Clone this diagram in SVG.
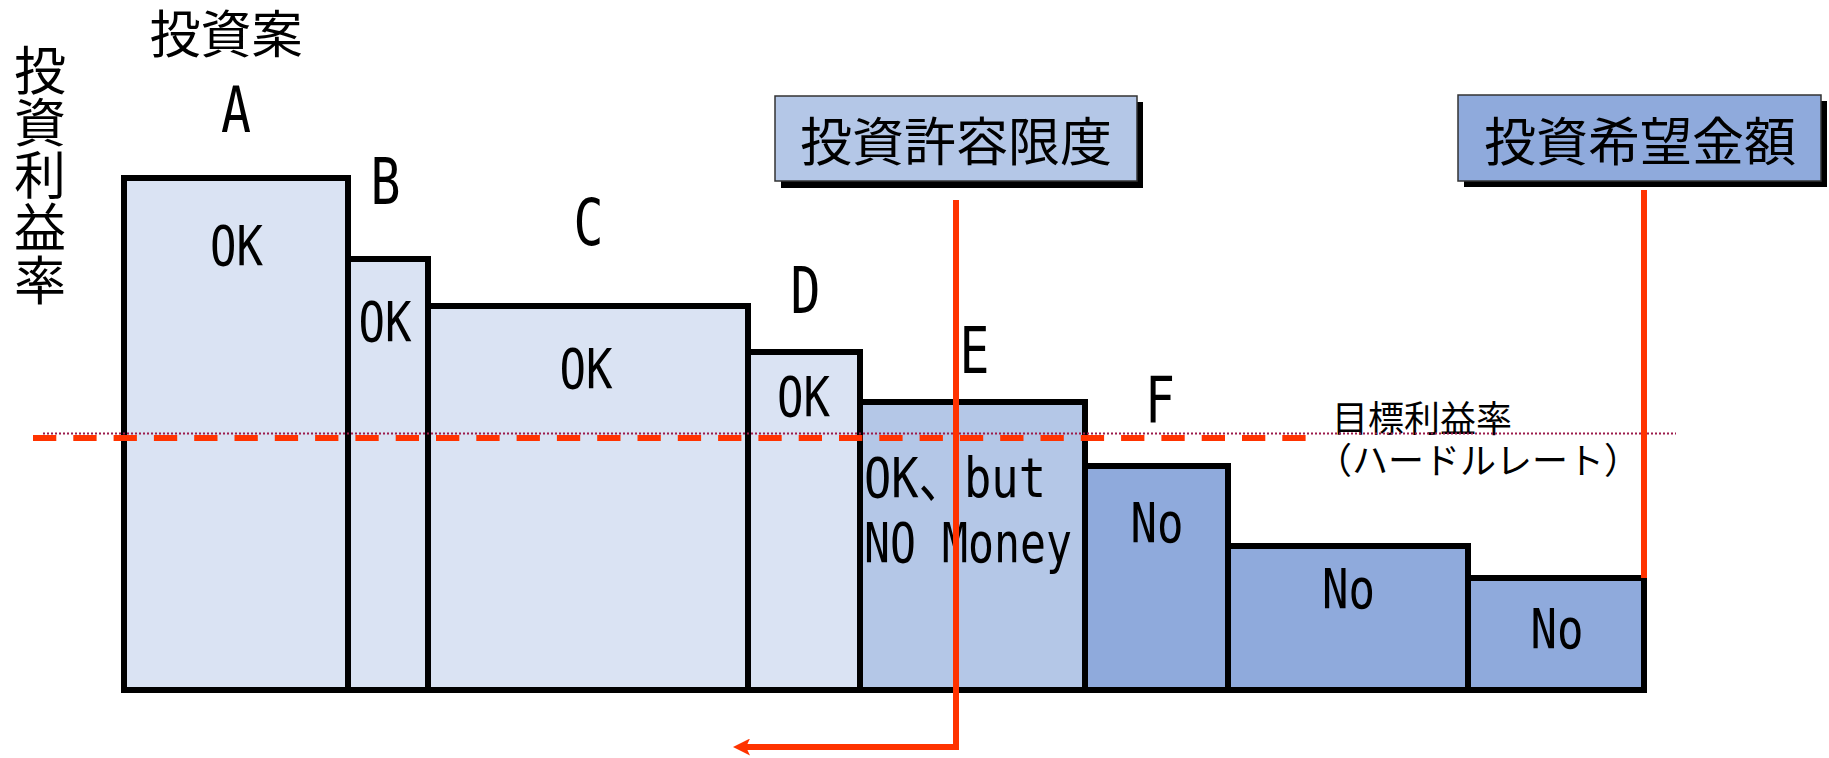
<svg xmlns="http://www.w3.org/2000/svg" width="1829" height="758" viewBox="0 0 1829 758">
<style>
.bar{stroke:#000;stroke-width:6;stroke-linejoin:miter}
.l1{fill:#dae3f3}
.l2{fill:#b4c7e7}
.l3{fill:#8faadc}
.lat{font-family:"DejaVu Sans Mono","Noto Sans CJK JP",monospace;fill:#000}
.jp{font-family:"Noto Sans CJK JP","Noto Sans",sans-serif;fill:#000}
.hdr{stroke:#333;stroke-width:1.5}
.red{stroke:#ff3300;stroke-width:6;fill:none}
</style>
<defs>
<marker id="arr" markerUnits="userSpaceOnUse" viewBox="0 0 17 17" markerWidth="17" markerHeight="17" refX="4" refY="8.5" orient="auto">
<path d="M0,0 L17,8.5 L0,17 L4,8.5 Z" fill="#ff3300"/>
</marker>
</defs>
<rect width="1829" height="758" fill="#fff"/>

<g id="axis-labels">
<text class="jp" x="226" y="53" font-size="51" text-anchor="middle">投資案</text>
<text class="jp" x="40" y="44" font-size="52" writing-mode="vertical-rl" letter-spacing="0.5">投資利益率</text>
</g>

<g id="node-A">
<rect class="bar l1" x="124" y="178" width="224" height="512"/>
<text class="lat" x="236" y="132" font-size="64" text-anchor="middle" textLength="30" lengthAdjust="spacingAndGlyphs">A</text>
<text class="lat" x="236.5" y="265" font-size="56" text-anchor="middle" textLength="53" lengthAdjust="spacingAndGlyphs">OK</text>
</g>
<g id="node-B">
<rect class="bar l1" x="348" y="259" width="80" height="431"/>
<text class="lat" x="385.5" y="204" font-size="64" text-anchor="middle" textLength="30" lengthAdjust="spacingAndGlyphs">B</text>
<text class="lat" x="385" y="341" font-size="56" text-anchor="middle" textLength="53" lengthAdjust="spacingAndGlyphs">OK</text>
</g>
<g id="node-C">
<rect class="bar l1" x="428" y="306" width="320" height="384"/>
<text class="lat" x="588.5" y="245" font-size="64" text-anchor="middle" textLength="30" lengthAdjust="spacingAndGlyphs">C</text>
<text class="lat" x="586" y="388" font-size="56" text-anchor="middle" textLength="53" lengthAdjust="spacingAndGlyphs">OK</text>
</g>
<g id="node-D">
<rect class="bar l1" x="748" y="352" width="112" height="338"/>
<text class="lat" x="805.5" y="313" font-size="64" text-anchor="middle" textLength="30" lengthAdjust="spacingAndGlyphs">D</text>
<text class="lat" x="803.5" y="416" font-size="56" text-anchor="middle" textLength="53" lengthAdjust="spacingAndGlyphs">OK</text>
</g>
<g id="node-E">
<rect class="bar l2" x="860" y="402" width="225" height="288"/>
<text class="lat" x="974.5" y="373" font-size="64" text-anchor="middle" textLength="30" lengthAdjust="spacingAndGlyphs">E</text>
<text class="lat" x="864" y="497" font-size="55" textLength="182" lengthAdjust="spacingAndGlyphs">OK、but</text>
<text class="lat" x="864" y="562" font-size="55" textLength="208" lengthAdjust="spacingAndGlyphs">NO Money</text>
</g>
<g id="node-F">
<rect class="bar l3" x="1085" y="466" width="143" height="224"/>
<text class="lat" x="1160" y="422" font-size="64" text-anchor="middle" textLength="30" lengthAdjust="spacingAndGlyphs">F</text>
<text class="lat" x="1157" y="542" font-size="56" text-anchor="middle" textLength="53" lengthAdjust="spacingAndGlyphs">No</text>
</g>
<g id="node-G">
<rect class="bar l3" x="1228" y="546" width="240" height="144"/>
<text class="lat" x="1348.5" y="608" font-size="56" text-anchor="middle" textLength="53" lengthAdjust="spacingAndGlyphs">No</text>
</g>
<g id="node-H">
<rect class="bar l3" x="1468" y="578" width="176" height="112"/>
<text class="lat" x="1557" y="648" font-size="56" text-anchor="middle" textLength="53" lengthAdjust="spacingAndGlyphs">No</text>
</g>

<g id="node-limit">
<rect x="781" y="102" width="362" height="86" fill="#000"/>
<rect class="hdr l2" x="775" y="96" width="362" height="85"/>
<text class="jp" x="956" y="161" font-size="52" text-anchor="middle">投資許容限度</text>
</g>
<g id="node-desired">
<rect x="1464" y="101" width="363" height="86" fill="#000"/>
<rect class="hdr l3" x="1458" y="95" width="363" height="86"/>
<text class="jp" x="1640" y="161" font-size="52" text-anchor="middle">投資希望金額</text>
</g>

<g id="node-hurdle">
<text class="jp" x="1332" y="432" font-size="36">目標利益率</text>
<text class="jp" x="1316" y="474" font-size="36">（ハードルレート）</text>
</g>

<g id="connectors">
<path d="M43,433.5 H1676" stroke="#9b1b4b" stroke-width="2" stroke-dasharray="2 2" fill="none"/>
<path d="M33,438 H1310" stroke="#ff3300" stroke-width="6" stroke-dasharray="23.3 17" fill="none"/>
<path class="red" d="M956,200 V747 H746" marker-end="url(#arr)"/>
<path class="red" d="M1644,190 V578"/>
</g>
</svg>
